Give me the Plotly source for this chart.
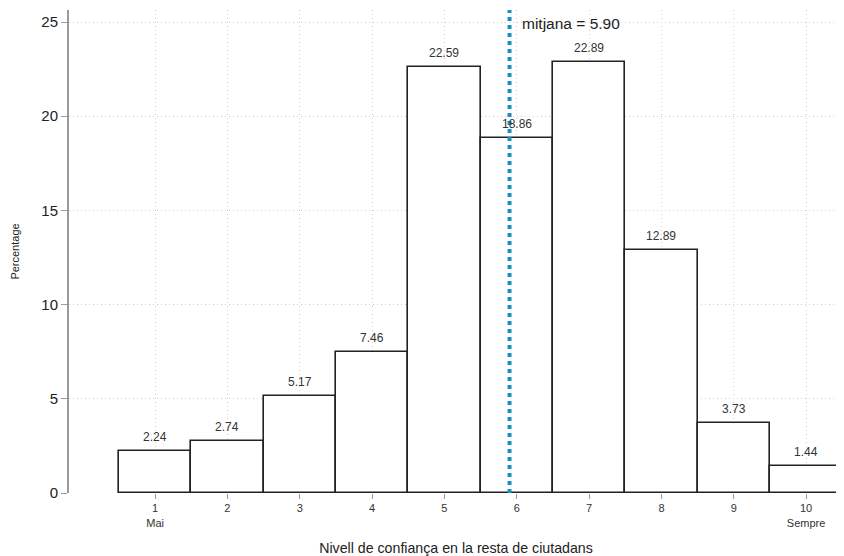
import plotly.graph_objects as go

categories = [1, 2, 3, 4, 5, 6, 7, 8, 9, 10]
percentages = [2.24, 2.74, 5.17, 7.46, 22.59, 18.86, 22.89, 12.89, 3.73, 1.44]
tick_labels = ["1<br>Mai", "2", "3", "4", "5", "6", "7", "8", "9", "10<br>Sempre"]
mean_value = 5.90
y_ticks = [0, 5, 10, 15, 20, 25]

FONT = "Liberation Sans, Arial, sans-serif"

fig = go.Figure()
fig.add_trace(go.Bar(
    x=categories, y=percentages, width=1,
    marker=dict(color="white", line=dict(color="#222222", width=1.6)),
    showlegend=False, hoverinfo="x+y",
))

for c, v in zip(categories, percentages):
    fig.add_annotation(x=c, y=v, xref="x", yref="y", text=f"{v:.2f}", showarrow=False,
                       yanchor="bottom", yshift=5,
                       font=dict(size=12, color="#333333", family=FONT))

# x axis baseline
fig.add_shape(type="line", xref="x", yref="y", x0=0.5, x1=10.5, y0=0, y1=0,
              line=dict(color="#9a9a9a", width=2), layer="below")
# mean line
fig.add_shape(type="line", xref="x", yref="y", x0=mean_value, x1=mean_value, y0=0, y1=25.64,
              line=dict(color="#1a8ec9", width=4, dash="dot"), layer="above")
fig.add_annotation(x=mean_value, y=25.0, xref="x", yref="y", text=f"mitjana = {mean_value:.2f}",
                   showarrow=False, xanchor="left", yanchor="middle", xshift=10, yshift=-1,
                   font=dict(size=15.5, color="#222222", family=FONT))

fig.update_layout(
    width=836, height=548,
    margin=dict(l=61, r=1, t=2, b=63, autoexpand=False),
    plot_bgcolor="white", paper_bgcolor="white",
    font=dict(family=FONT, color="#222222"),
    bargap=0,
    xaxis=dict(
        range=[-0.19, 10.51], tickmode="array", tickvals=categories, ticktext=tick_labels,
        tickfont=dict(size=11, color="#333333"), ticks="outside", ticklen=5, tickcolor="#9a9a9a",
        showgrid=True, gridcolor="#cfcfcf", griddash="1px,3px", gridwidth=1,
        zeroline=False, showline=False, automargin=False,
        title=dict(text="Nivell de confiança en la resta de ciutadans", font=dict(size=14.2, color="#222222"), standoff=16),
    ),
    yaxis=dict(
        range=[0, 25.64], tickvals=y_ticks, tickfont=dict(size=15, color="#222222"),
        ticks="outside", ticklen=6, tickcolor="#9a9a9a",
        showline=True, linecolor="#9a9a9a", linewidth=2,
        showgrid=True, gridcolor="#cfcfcf", griddash="1px,3px", gridwidth=1,
        zeroline=False, automargin=False,
        title=dict(text="Percentage", font=dict(size=11, color="#222222"), standoff=19),
    ),
)

fig.write_html("out.html")
